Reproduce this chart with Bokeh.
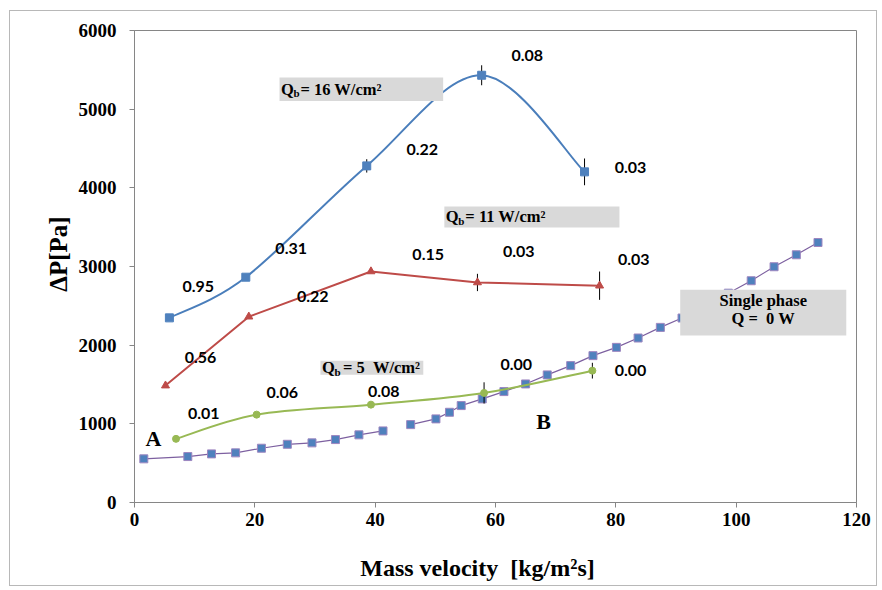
import numpy as np
from bokeh.plotting import figure
from bokeh.models import Range1d, FixedTicker
from bokeh.core.properties import value
from bokeh.embed import file_html
from bokeh.resources import INLINE

# ---------------- data ----------------
x_ticks = [0, 20, 40, 60, 80, 100, 120]
y_ticks = [0, 1000, 2000, 3000, 4000, 5000, 6000]

q16_x = [5.8, 18.5, 38.6, 57.7, 74.8]
q16_y = [2347, 2864, 4279, 5431, 4203]
q16_err = [0, 0, 85, 127, 170]
q16_lbl = ["0.95", "0.31", "0.22", "0.08", "0.03"]

q11_x = [5.15, 19.0, 39.3, 57.0, 77.3]
q11_y = [1486, 2362, 2937, 2797, 2756]
q11_err = [0, 0, 0, 110, 180]
q11_lbl = ["0.56", "0.22", "0.15", "0.03", "0.03"]

q5_x = [6.9, 20.3, 39.3, 58.1, 76.1]
q5_y = [809, 1117, 1244, 1393, 1676]
q5_err = [0, 0, 0, 135, 100]
q5_lbl = ["0.01", "0.06", "0.08", "0.00", "0.00"]

sp_x_a = [1.55, 8.86, 12.8, 16.8, 21.1, 25.4, 29.5, 33.4, 37.3, 41.3]
sp_y_a = [555, 584, 618, 631, 690, 740, 758, 800, 860, 910]
sp_x_b = [45.9, 50.1, 52.35, 54.3, 57.8, 61.4, 65.0, 68.6, 72.5, 76.2,
          80.1, 83.7, 87.4, 91.0, 94.8, 98.7, 102.5, 106.3, 110.0, 113.6]
sp_y_b = [990, 1063, 1147, 1232, 1317, 1410, 1507, 1622, 1740, 1867,
          1972, 2091, 2226, 2345, 2503, 2661, 2819, 2997, 3149, 3305]

NB = "\u00a0"
series_titles = ["= 16 W/cm²", "= 11 W/cm²", "= 5" + NB + NB + "W/cm²"]
single_title = ["Single phase", "Q =" + NB + NB + "0 W"]
x_title = "Mass velocity" + NB + NB + "[kg/m²s]"
y_title = "ΔP[Pa]"

# ---------------- annotation placement (layout) ----------------
q16_lbl_x = [10.59, 26.04, 47.82, 65.27, 82.44]
q16_lbl_y = [2743, 3234, 4491, 5685, 4258]
q11_lbl_x = [10.97, 29.63, 48.81, 63.87, 82.99]
q11_lbl_y = [1845, 2616, 3158, 3191, 3086]
q5_lbl_x = [11.52, 24.55, 41.43, 63.44, 82.44]
q5_lbl_y = [1126, 1401, 1413, 1752, 1676]

box_l = [24.1, 51.5, 30.9, 90.7]
box_r = [51.3, 80.6, 48.0, 118.3]
box_t = [5401, 3763, 1803, 2705]
box_b = [5105, 3496, 1625, 2124]

BLUE = "#4a7ebb"
RED = "#be4b48"
GREEN = "#98b954"
PURPLE = "#7d60a0"
MARK = "#4f81bd"
SERIF = value("Liberation Serif")
SANS = value("Lato")


def smooth(xs, ys):
    n = len(xs)
    out = {k: [] for k in ("x0", "y0", "x1", "y1", "cx0", "cy0", "cx1", "cy1")}
    for i in range(n - 1):
        im = max(i - 1, 0)
        i2 = min(i + 2, n - 1)
        out["x0"].append(xs[i]); out["y0"].append(ys[i])
        out["x1"].append(xs[i + 1]); out["y1"].append(ys[i + 1])
        out["cx0"].append(xs[i] + (xs[i + 1] - xs[im]) / 6.0)
        out["cy0"].append(ys[i] + (ys[i + 1] - ys[im]) / 6.0)
        out["cx1"].append(xs[i + 1] - (xs[i2] - xs[i]) / 6.0)
        out["cy1"].append(ys[i + 1] - (ys[i2] - ys[i]) / 6.0)
    return out


p = figure(width=868, height=576, output_backend="svg", toolbar_location=None,
           x_range=Range1d(0, 120), y_range=Range1d(0, 6000),
           min_border_left=124, min_border_right=22,
           min_border_top=19, min_border_bottom=85)
p.styles = {"border": "1px solid #b8b8b8", "margin-left": "9px", "margin-top": "10px"}
p.background_fill_color = "white"
p.border_fill_color = "white"
p.outline_line_color = "#868686"
p.outline_line_width = 1
p.xgrid.visible = False
p.ygrid.visible = False

for ax, ticks in ((p.xaxis, x_ticks), (p.yaxis, y_ticks)):
    ax.ticker = FixedTicker(ticks=ticks)
    ax.axis_line_color = "#868686"
    ax.major_tick_line_color = "#868686"
    ax.major_tick_in = 0
    ax.major_tick_out = 5
    ax.minor_tick_line_color = None
    ax.major_label_text_font = "Liberation Serif"
    ax.major_label_text_font_style = "bold"
    ax.major_label_text_font_size = "19px"
    ax.major_label_text_color = "black"
    ax.axis_label_text_font = "Liberation Serif"
    ax.axis_label_text_font_style = "bold"
    ax.axis_label_text_color = "black"

# trailing / leading no-break spaces shift the centred titles like the original
p.xaxis.axis_label = x_title + NB * 6
p.xaxis.axis_label_text_font_size = "24px"
p.xaxis.major_label_standoff = 5
p.xaxis.axis_label_standoff = 26
p.yaxis.axis_label = NB * 4 + y_title
p.yaxis.axis_label_text_font_size = "25px"
p.yaxis.major_label_standoff = 13
p.yaxis.axis_label_standoff = 4

# single phase line (two runs)
p.line(sp_x_a, sp_y_a, line_color=PURPLE, line_width=1.2)
p.line(sp_x_b, sp_y_b, line_color=PURPLE, line_width=1.2)
p.scatter(sp_x_a + sp_x_b, sp_y_a + sp_y_b, marker="square", size=8,
          fill_color=MARK, line_color="#9d86c0", line_width=1)

# Q=5 smoothed
s5 = smooth(q5_x, q5_y)
p.bezier(**s5, line_color=GREEN, line_width=2)
# Q=11 straight
p.line(q11_x, q11_y, line_color=RED, line_width=2)
# Q=16 smoothed
s16 = smooth(q16_x, q16_y)
p.bezier(**s16, line_color=BLUE, line_width=2)

# error bars
for xs, ys, es in ((q16_x, q16_y, q16_err), (q11_x, q11_y, q11_err), (q5_x, q5_y, q5_err)):
    sel = [i for i, e in enumerate(es) if e > 0]
    p.segment(x0=[xs[i] for i in sel], y0=[ys[i] - es[i] for i in sel],
              x1=[xs[i] for i in sel], y1=[ys[i] + es[i] for i in sel],
              line_color="black", line_width=1)

p.scatter(q5_x, q5_y, marker="circle", size=7, fill_color=GREEN, line_color=GREEN)
p.scatter(q11_x, q11_y, marker="triangle", size=8, fill_color=RED, line_color=RED)
p.scatter(q16_x, q16_y, marker="square", size=8, fill_color=MARK, line_color=MARK)

# value labels
for lx, ly, lt in ((q16_lbl_x, q16_lbl_y, q16_lbl), (q11_lbl_x, q11_lbl_y, q11_lbl),
                   (q5_lbl_x, q5_lbl_y, q5_lbl)):
    p.text(lx, ly, text=lt, text_align="center", text_baseline="middle",
           text_font=SANS, text_font_style="bold", text_font_size="16px",
           text_color="black")

# grey boxes (on top of lines)
p.quad(left=box_l, right=box_r, top=box_t, bottom=box_b,
       fill_color="#d9d9d9", line_color=None)

cy = [(t + b) / 2 for t, b in zip(box_t, box_b)]
p.text(box_l[:3], cy[:3], text=["Q"] * 3, x_offset=1.5, text_align="left",
       text_baseline="middle", text_font=SERIF, text_font_style="bold",
       text_font_size="16.5px", text_color="black")
p.text(box_l[:3], cy[:3], text=["b"] * 3, x_offset=14, y_offset=4,
       text_align="left", text_baseline="middle", text_font=SERIF,
       text_font_style="bold", text_font_size="11px", text_color="black")
p.text(box_l[:3], cy[:3], text=series_titles, x_offset=[21, 21, 22.5],
       text_align="left", text_baseline="middle", text_font=SERIF,
       text_font_style="bold", text_font_size="16.5px", text_color="black")

sx = (box_l[3] + box_r[3]) / 2
p.text([sx, sx], [cy[3], cy[3]], text=single_title, y_offset=[-12, 6],
       text_align="center", text_baseline="middle", text_font=SERIF,
       text_font_style="bold", text_font_size="16.5px", text_color="black")

# point letters A and B
p.text([3.16, 67.98], [813, 1029], text=["A", "B"], text_align="center",
       text_baseline="middle", text_font=SERIF, text_font_style="bold",
       text_font_size="22px", text_color="black")

open("out.html", "w").write(file_html(p, INLINE))
